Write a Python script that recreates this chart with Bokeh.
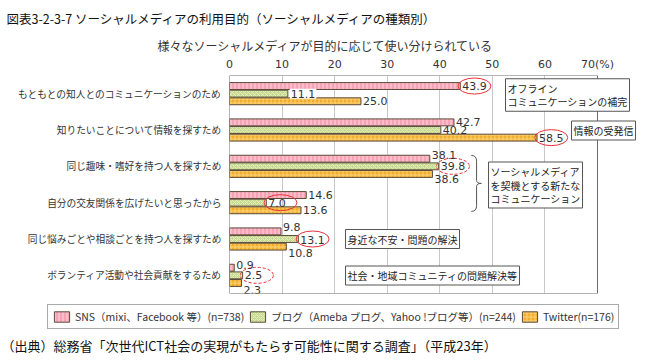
from bokeh.plotting import figure
from bokeh.layouts import column
from bokeh.models import (Range1d, FixedTicker, Label, Legend, LegendItem, ColumnDataSource, Title)
from bokeh.embed import file_html
from bokeh.resources import INLINE
from bokeh.core.properties import value

# ---------------- data ----------------
categories = [
    "もともとの知人とのコミュニケーションのため",
    "知りたいことについて情報を探すため",
    "同じ趣味・嗜好を持つ人を探すため",
    "自分の交友関係を広げたいと思ったから",
    "同じ悩みごとや相談ごとを持つ人を探すため",
    "ボランティア活動や社会貢献をするため",
]
sns = [43.9, 42.7, 38.1, 14.6, 9.8, 0.9]
blog = [11.1, 40.2, 39.8, 7.0, 13.1, 2.5]
twitter = [25.0, 58.5, 38.6, 13.6, 10.8, 2.3]
series_names = [
    "SNS（mixi、Facebook 等）(n=738)",
    "ブログ（Ameba ブログ、Yahoo !ブログ等）(n=244)",
    "Twitter(n=176)",
]
x_ticks = [0, 10, 20, 30, 40, 50, 60, 70]
x_tick_labels = ["0", "10", "20", "30", "40", "50", "60", "70(%)"]
title_text = "図表3-2-3-7 ソーシャルメディアの利用目的（ソーシャルメディアの種類別）"
subtitle_text = "様々なソーシャルメディアが目的に応じて使い分けられている"
source_text = "（出典）総務省「次世代ICT社会の実現がもたらす可能性に関する調査」（平成23年）"
note_texts = [
    "オフライン\nコミュニケーションの補完",
    "情報の受発信",
    "ソーシャルメディア\nを契機とする新たな\nコミュニケーション",
    "身近な不安・問題の解決",
    "社会・地域コミュニティの問題解決等",
]
# (category index, series index, dashed)
highlights = [(0, 0, False), (1, 2, False), (2, 1, True), (3, 1, False), (4, 1, False), (5, 1, True)]
boxed_label = (0, 1)

# ---------------- style ----------------
FONT = "Noto Sans CJK JP"
TXT = "#333333"
fills = ["#f5a3b5", "#c6da8c", "#f2ac2c"]
hatch_colors = ["#fcd6df", "#e6efc4", "#f9d47c"]
hatch_patterns = ["|", "x", "+"]
edge = "#5b4b3b"
offsets = [-0.21, 0.0, 0.21]
bar_h = 0.19
label_dy = [
    [0, 0, 0],
    [0, 0, 0],
    [-4, 0, 5],
    [0, 0, 0],
    [-4, 1, 6],
    [-3, 0, 7],
]
PX_PER_UNIT = 368 / 70.0
FRAME_W = 416
LEFT = 229
TOTAL_W = LEFT + FRAME_W
LEGEND_H = 34

p = figure(frame_width=FRAME_W, frame_height=218, output_backend="svg", toolbar_location=None,
           x_range=Range1d(0, FRAME_W / PX_PER_UNIT), y_range=Range1d(6.5, 0.5),
           x_axis_location="above",
           min_border_left=LEFT, min_border_right=0, min_border_top=0, min_border_bottom=6)
p.background_fill_color = "white"
p.border_fill_color = "white"
p.outline_line_color = None

p.title.text = title_text
p.title.text_font = FONT
p.title.text_font_size = "12.5px"
p.title.text_font_style = "normal"
p.title.text_color = "#111111"
p.title.align = "left"
p.title.offset = -223
p.title.standoff = 13

xa = p.xaxis[0]
xa.ticker = FixedTicker(ticks=x_ticks)
xa.major_label_overrides = dict(zip(x_ticks, x_tick_labels))
xa.axis_line_color = None
xa.major_tick_line_color = None
xa.minor_tick_line_color = None
xa.major_tick_out = 0
xa.major_tick_in = 0
xa.major_label_text_font = "DejaVu Sans"
xa.major_label_text_font_size = "11px"
xa.major_label_text_color = TXT
xa.major_label_standoff = 5

ya = p.yaxis[0]
y_idx = list(range(1, len(categories) + 1))
ya.ticker = FixedTicker(ticks=y_idx)
ya.major_label_overrides = dict(zip(y_idx, categories))
ya.axis_line_color = None
ya.major_tick_line_color = None
ya.minor_tick_line_color = None
ya.major_tick_out = 0
ya.major_tick_in = 0
ya.major_label_text_font = FONT
ya.major_label_text_font_size = "9.7px"
ya.major_label_text_color = TXT
ya.major_label_standoff = 8

p.xgrid.ticker = FixedTicker(ticks=x_ticks[1:-1])
p.xgrid.grid_line_color = "#c8c8c8"
p.ygrid.visible = False

# plot border (0..70 %)
p.quad(left=[x_ticks[0]], right=[x_ticks[-1]], top=[0.5], bottom=[len(categories) + 0.5],
       fill_color=None, line_color="#6b6b6b", line_width=1)

series_vals = [sns, blog, twitter]
bar_style = [dict(fill_color=fills[s], line_color=edge, line_width=1,
                  hatch_pattern=hatch_patterns[s], hatch_color=hatch_colors[s],
                  hatch_scale=4, hatch_weight=1) for s in range(3)]
for s, vals in enumerate(series_vals):
    src = ColumnDataSource(dict(y=[i + offsets[s] for i in y_idx], v=vals))
    p.hbar(y="y", left=0, right="v", height=bar_h, source=src, **bar_style[s])

for g, s, dashed in highlights:
    p.ellipse(x=[series_vals[s][g] + 2.7], y=[y_idx[g] + offsets[s]], width=33, height=16,
              width_units="screen", height_units="screen",
              fill_color=None, line_color="#e8303c", line_width=1,
              line_dash="3 2" if dashed else "solid")

for s, vals in enumerate(series_vals):
    keep = [g for g in range(len(vals)) if (g, s) != boxed_label]
    src = ColumnDataSource(dict(
        x=[vals[g] for g in keep],
        y=[y_idx[g] + offsets[s] for g in keep],
        t=[f"{vals[g]:.1f}" for g in keep],
        dy=[label_dy[g][s] for g in keep],
    ))
    p.text(x="x", y="y", text="t", source=src, x_offset=2, y_offset="dy",
           text_font=value("DejaVu Sans"), text_font_size="11px", text_color=TXT,
           text_baseline="middle", text_align="left")

g, s = boxed_label
p.add_layout(Label(x=series_vals[s][g], y=y_idx[g] + offsets[s], x_offset=2,
                   text=f"{series_vals[s][g]:.1f}", text_font="DejaVu Sans",
                   text_font_size="11px", text_color=TXT, text_baseline="middle",
                   background_fill_color="white", padding=1))

# brace
X0, X1, X2 = 46.0, 47.0, 47.9
YT, YM, YB = 2.70, 3.47, 4.24
bc = "#555555"
p.quadratic(x0=[X0, X1, X2, X1], y0=[YT, YM - 0.08, YM, YB - 0.16],
            x1=[X1, X2, X1, X0], y1=[YT + 0.16, YM, YM + 0.08, YB],
            cx=[X1, X1, X1, X1], cy=[YT, YM, YM, YB], line_color=bc, line_width=1)
p.segment(x0=[X1, X1], y0=[YT + 0.16, YM + 0.08], x1=[X1, X1], y1=[YM - 0.08, YB - 0.16],
          line_color=bc, line_width=1)

note_pos = [(52.5, 1.037), (65.06, 2.014), (49.27, 3.514), (22.07, 5.0), (22.07, 6.005)]
for t, (nx, ny) in zip(note_texts, note_pos):
    p.add_layout(Label(x=nx, y=ny, text=t, text_font=FONT, text_font_size="10px",
                       text_color="#222222", text_align="left", text_baseline="middle",
                       background_fill_color="white", border_line_color="#555555",
                       border_line_width=1, padding=2, text_line_height=0.9))

p.add_layout(Title(text=subtitle_text, text_font=FONT, text_font_size="12px",
                   text_font_style="normal", text_color=TXT, align="left",
                   offset=-72, standoff=1), "above")

# ---------------- legend strip ----------------
q = figure(frame_width=TOTAL_W, frame_height=LEGEND_H, output_backend="svg", toolbar_location=None,
           x_range=Range1d(0, TOTAL_W), y_range=Range1d(0, LEGEND_H),
           x_axis_type=None, y_axis_type=None,
           min_border_left=0, min_border_right=0, min_border_top=0, min_border_bottom=0)
q.outline_line_color = None
q.grid.visible = False
q.background_fill_color = "white"
q.border_fill_color = "white"
q.title.visible = False

# legend proxies (their single bar lies outside the visible range, so only the key shows)
legend_renderers = []
for s in range(3):
    r = q.hbar(y=[-1000], right=[1], left=0, height=1, **bar_style[s])
    legend_renderers.append(r)

legend = Legend(items=[LegendItem(label=n, renderers=[r]) for n, r in zip(series_names, legend_renderers)],
                location=(47, 4), orientation="horizontal",
                glyph_width=19, glyph_height=13, spacing=4, label_standoff=4,
                padding=4, margin=0, border_line_color="#555555",
                label_text_font=FONT, label_text_font_size="10.5px", label_text_color=TXT,
                label_height=13, background_fill_alpha=1.0)
q.add_layout(legend)

# ---------------- source strip ----------------
f = figure(frame_width=FRAME_W, frame_height=1, output_backend="svg", toolbar_location=None,
           x_range=Range1d(0, 1), y_range=Range1d(0, 1),
           x_axis_type=None, y_axis_type=None,
           min_border_left=LEFT, min_border_right=0, min_border_top=0, min_border_bottom=0)
f.outline_line_color = None
f.grid.visible = False
f.background_fill_color = "white"
f.border_fill_color = "white"
f.title.text = source_text
f.title.text_font = FONT
f.title.text_font_size = "13px"
f.title.text_font_style = "normal"
f.title.text_color = "#111111"
f.title.align = "left"
f.title.offset = -228
f.title.standoff = 0

layout = column(p, q, f, spacing=0)
open("out.html", "w").write(file_html(layout, INLINE))
